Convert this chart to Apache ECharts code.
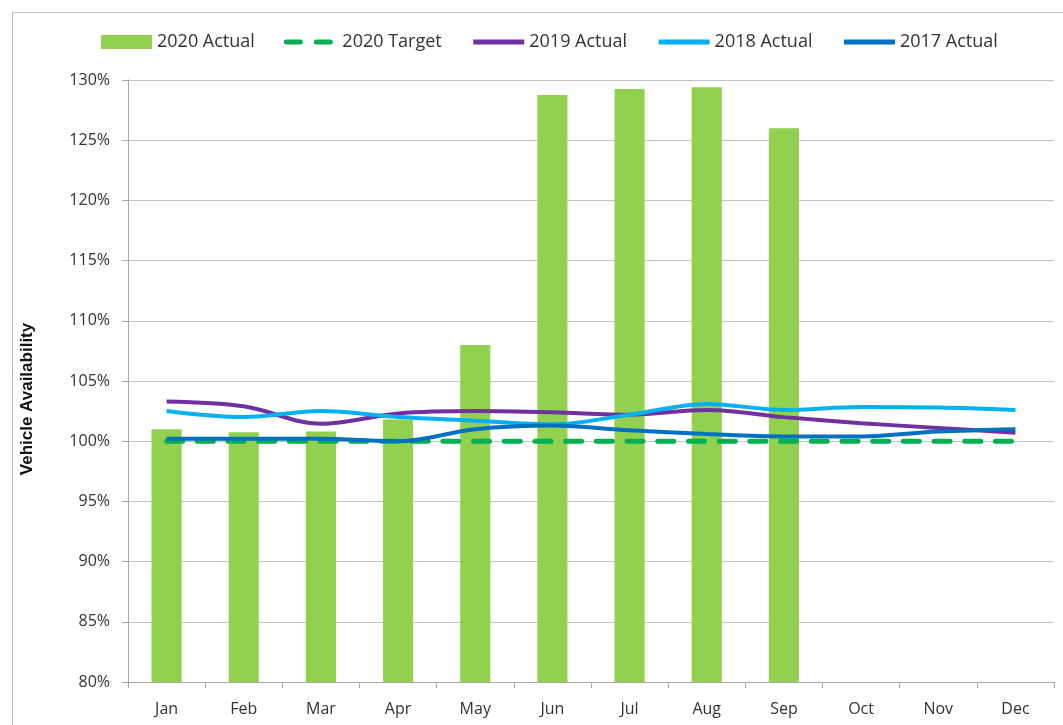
<!DOCTYPE html>
<html>
<head>
<meta charset="utf-8">
<script src="https://cdn.jsdelivr.net/npm/echarts@6/dist/echarts.min.js"></script>
<style>
  html, body { margin: 0; padding: 0; background: #fff; }
  #chart { width: 1063px; height: 725px; }
</style>
</head>
<body>
<div id="chart"></div>
<script>
// Monthly vehicle availability (%)
const months = ['Jan', 'Feb', 'Mar', 'Apr', 'May', 'Jun', 'Jul', 'Aug', 'Sep', 'Oct', 'Nov', 'Dec'];
const actual2020 = [101.0, 100.75, 100.8, 101.8, 108.0, 128.75, 129.25, 129.4, 126.0, null, null, null];
const target2020 = [100, 100, 100, 100, 100, 100, 100, 100, 100, 100, 100, 100];
const actual2019 = [103.3, 102.9, 101.45, 102.3, 102.5, 102.4, 102.2, 102.6, 102.0, 101.5, 101.1, 100.7];
const actual2018 = [102.5, 102.0, 102.5, 102.0, 101.7, 101.4, 102.2, 103.1, 102.6, 102.85, 102.8, 102.6];
const actual2017 = [100.2, 100.2, 100.2, 100.0, 101.0, 101.3, 100.9, 100.6, 100.4, 100.4, 100.8, 101.0];

const font = '"Liberation Sans Narrow", "Open Sans", "Liberation Sans", sans-serif';

const chart = echarts.init(document.getElementById('chart'));

function smoothLine(name, data, color) {
  return {
    name, type: 'line', data, smooth: 0.35, symbol: 'none',
    lineStyle: { color, width: 4 }, itemStyle: { color }, z: 3
  };
}

// legend entry for a line series: plain stroke, no marker
function lineLegend(name, color, dash) {
  return {
    name,
    itemStyle: { opacity: 0 },
    lineStyle: { color, width: 5, type: dash || 'solid', cap: dash ? 'round' : 'butt' }
  };
}

chart.setOption({
  animation: false,
  graphic: [{
    type: 'rect', left: 10, top: 10,
    shape: { width: 1070, height: 730 },
    style: { fill: 'none', stroke: '#bdbdbd', lineWidth: 1 }, silent: true
  }],
  legend: {
    top: 28, left: 96, itemWidth: 51, itemHeight: 14, itemGap: 29,
    textStyle: { fontFamily: font, fontSize: 18, color: '#333' },
    data: [
      { name: '2020 Actual', icon: 'rect' },
      lineLegend('2020 Target', '#00B050', [14, 16]),
      lineLegend('2019 Actual', '#7030A0'),
      lineLegend('2018 Actual', '#00B0F0'),
      lineLegend('2017 Actual', '#0070C0')
    ]
  },
  grid: { left: 128, right: 9, top: 80, bottom: 43 },
  xAxis: {
    type: 'category', data: months, boundaryGap: true,
    axisLine: { lineStyle: { color: '#a6a6a6', width: 1 } },
    axisTick: { show: true, alignWithLabel: false, length: 6, lineStyle: { color: '#a6a6a6' } },
    axisLabel: { fontFamily: font, fontSize: 16, color: '#333', margin: 19 }
  },
  yAxis: {
    type: 'value', min: 80, max: 130, interval: 5,
    name: 'Vehicle Availability', nameLocation: 'middle', nameGap: 92, nameRotate: 90,
    nameTextStyle: { fontFamily: '"Liberation Sans", Arial, sans-serif', fontSize: 17, fontWeight: 'bold', color: '#111', padding: [0, 0, 0, -36] },
    axisLine: { show: true, lineStyle: { color: '#a6a6a6' } },
    axisTick: { show: true, length: 6, lineStyle: { color: '#a6a6a6' } },
    axisLabel: { fontFamily: font, fontSize: 16, color: '#333', margin: 18, formatter: v => v + '%' },
    splitLine: { lineStyle: { color: '#c4c4c4', width: 1 } }
  },
  series: [
    {
      name: '2020 Actual', type: 'bar', data: actual2020, barWidth: '39%',
      itemStyle: { color: '#92D050' }, z: 2
    },
    {
      name: '2020 Target', type: 'line', data: target2020, symbol: 'none',
      lineStyle: { color: '#00B050', width: 5, type: [16, 14.7], cap: 'round' },
      itemStyle: { color: '#00B050' }, z: 3
    },
    smoothLine('2019 Actual', actual2019, '#7030A0'),
    smoothLine('2018 Actual', actual2018, '#00B0F0'),
    smoothLine('2017 Actual', actual2017, '#0070C0')
  ]
});
</script>
</body>
</html>
